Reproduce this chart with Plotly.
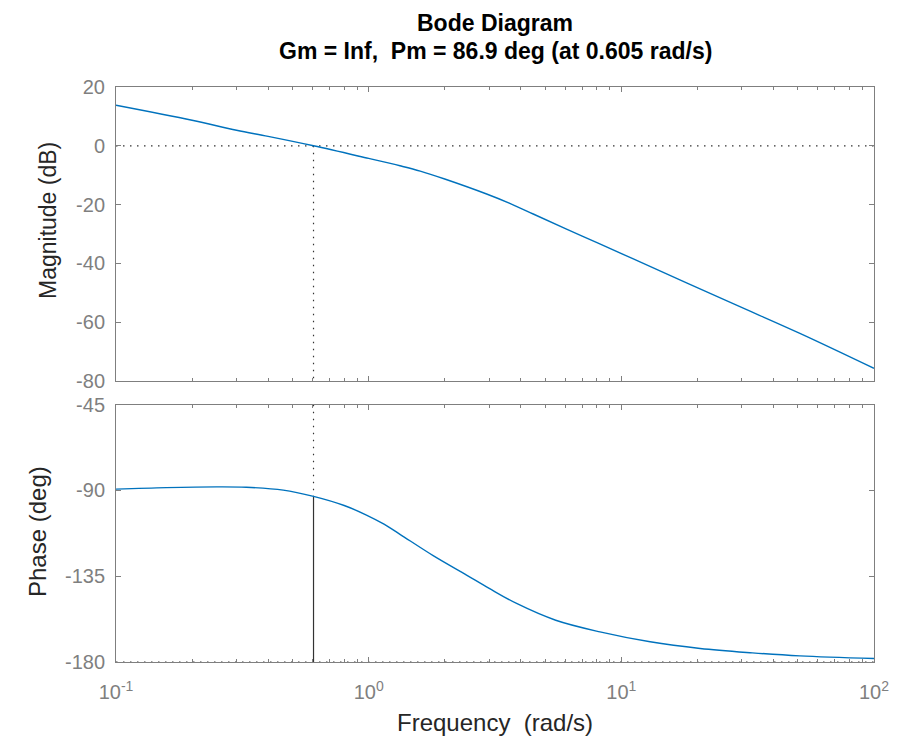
import plotly.graph_objects as go

# ---- data ----
mag_freq = [0.1, 0.2, 0.3, 0.4, 0.605, 1.0, 1.33, 1.6, 2.0, 2.93, 3.6, 4.48, 7.0, 11.1, 27.7, 50.9, 100]
mag_db = [13.8, 8.7, 5.3, 3.2, 0.0, -4.3, -6.8, -8.6, -11.3, -16.4, -19.5, -23.2, -30.7, -38.4,
          -53.7, -63.8, -75.7]

phase_freq = [0.1, 0.158, 0.25, 0.328, 0.459, 0.605, 0.8, 0.98, 1.15, 1.33, 1.8, 2.44, 3.0,
              3.85, 5.5, 8.23, 13.0, 20.5, 33.0, 50.9, 100]
phase_deg = [-89.3, -88.5, -88.1, -88.3, -89.8, -93.1, -97.9, -102.9, -107.7, -113.0, -124.2,
             -134.4, -141.4, -149.3, -158.1, -164.2, -169.4, -172.9, -175.2, -176.8, -178.2]

wc = 0.605            # gain crossover frequency (rad/s)
pm_phase = -93.1      # phase at crossover (deg)
x_range = [0.1, 100]
mag_ticks = [-80, -60, -40, -20, 0, 20]
mag_ticktext = ["-80", "-60", "-40", "-20", "0", "20"]
phase_ticks = [-180, -135, -90, -45]
phase_ticktext = ["-180", "-135", "-90", "-45"]
x_ticks = [0.1, 1, 10, 100]
x_ticktext = ["10<sup>-1</sup>", "10<sup>0</sup>", "10<sup>1</sup>", "10<sup>2</sup>"]
minor_vals = [m * 10 ** e for e in (-1, 0, 1) for m in range(2, 10)]

title1 = "Bode Diagram"
title2 = "Gm = Inf,&nbsp; Pm = 86.9 deg (at 0.605 rad/s)"

BLUE = "#0072BD"
AX = "#7f7f7f"
REF = "#333333"
FONT = "Liberation Sans, Arial, Helvetica, sans-serif"
DOT = "1.5px,5.5px"

fig = go.Figure()

# margin reference lines
fig.add_trace(go.Scatter(x=x_range, y=[0, 0], mode="lines",
                         line=dict(color=REF, width=1.2, dash=DOT),
                         xaxis="x", yaxis="y", hoverinfo="skip"))
fig.add_trace(go.Scatter(x=[wc, wc], y=[0, -80], mode="lines",
                         line=dict(color=REF, width=1.2, dash=DOT),
                         xaxis="x", yaxis="y", hoverinfo="skip"))
fig.add_trace(go.Scatter(x=x_range, y=[-180, -180], mode="lines",
                         line=dict(color=REF, width=1.2, dash=DOT),
                         xaxis="x2", yaxis="y2", hoverinfo="skip"))
fig.add_trace(go.Scatter(x=[wc, wc], y=[-45, pm_phase], mode="lines",
                         line=dict(color=REF, width=1.2, dash=DOT),
                         xaxis="x2", yaxis="y2", hoverinfo="skip"))
fig.add_trace(go.Scatter(x=[wc, wc], y=[pm_phase, -180], mode="lines",
                         line=dict(color=REF, width=1.2),
                         xaxis="x2", yaxis="y2", hoverinfo="skip"))

# curves
fig.add_trace(go.Scatter(x=mag_freq, y=mag_db, mode="lines",
                         line=dict(color=BLUE, width=1.4, shape="spline", smoothing=1.0),
                         xaxis="x", yaxis="y"))
fig.add_trace(go.Scatter(x=phase_freq, y=phase_deg, mode="lines",
                         line=dict(color=BLUE, width=1.4, shape="spline", smoothing=1.0),
                         xaxis="x2", yaxis="y2"))

axis_common = dict(showline=True, linecolor=AX, linewidth=1, mirror="allticks",
                   ticks="inside", tickcolor=AX, ticklen=5, showgrid=False,
                   zeroline=False, tickfont=dict(family=FONT, size=20, color=AX))

fig.update_layout(
    width=897, height=733,
    margin=dict(l=108, r=31, t=79, b=79),
    paper_bgcolor="white", plot_bgcolor="white",
    showlegend=False,
    xaxis=dict(type="log", range=[-1, 2], anchor="y", matches="x2",
               tickvals=x_ticks, showticklabels=False,
               minor=dict(tickvals=minor_vals, ticks="inside", ticklen=3, tickcolor=AX),
               **axis_common),
    yaxis=dict(domain=[0.4887, 1.0], range=[-80, 20], tickvals=mag_ticks,
               ticktext=mag_ticktext, anchor="x", ticklabelstandoff=6,
               **axis_common),
    xaxis2=dict(type="log", range=[-1, 2], anchor="y2",
                tickvals=x_ticks, ticktext=x_ticktext, ticklabelstandoff=12,
                minor=dict(tickvals=minor_vals, ticks="inside", ticklen=3, tickcolor=AX),
                **axis_common),
    yaxis2=dict(domain=[0.0, 0.4475], range=[-180, -45], tickvals=phase_ticks,
                ticktext=phase_ticktext, anchor="x2", ticklabelstandoff=6,
                **axis_common),
)

fig.add_annotation(text="<b>" + title1 + "</b>", xref="paper", yref="paper",
                   x=0.5, y=1, yshift=87 - 8, showarrow=False,
                   font=dict(family=FONT, size=23, color="black"),
                   xanchor="center", yanchor="top")
fig.add_annotation(text="<b>" + title2 + "</b>", xref="paper", yref="paper",
                   x=0.5, y=1, yshift=87 - 51, showarrow=False,
                   font=dict(family=FONT, size=23, color="black"),
                   xanchor="center", yanchor="middle")
fig.add_annotation(text="Magnitude (dB)", xref="paper", yref="paper",
                   x=0, xshift=48 - 116, y=1, yshift=87 - 221, textangle=-90,
                   showarrow=False, font=dict(family=FONT, size=23, color="#262626"),
                   xanchor="center", yanchor="middle")
fig.add_annotation(text="Phase (deg)", xref="paper", yref="paper",
                   x=0, xshift=37 - 116, y=1, yshift=87 - 532, textangle=-90,
                   showarrow=False, font=dict(family=FONT, size=24, color="#262626"),
                   xanchor="center", yanchor="middle")
fig.add_annotation(text="Frequency&nbsp; (rad/s)", xref="paper", yref="paper",
                   x=0.5, y=0, yshift=662 - 722, showarrow=False,
                   font=dict(family=FONT, size=24, color="#262626"),
                   xanchor="center", yanchor="middle")

fig.write_html("out.html")
